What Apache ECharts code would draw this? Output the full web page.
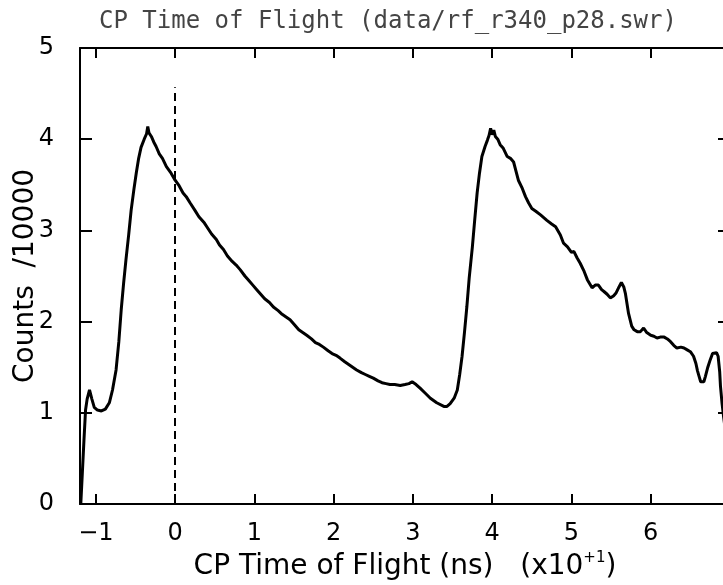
<!DOCTYPE html>
<html>
<head>
<meta charset="utf-8">
<style>
  html, body { margin: 0; padding: 0; background: #fff; }
  #chart { width: 723px; height: 585px; }
</style>
<script src="https://cdn.jsdelivr.net/npm/echarts@6/dist/echarts.min.js"></script>
</head>
<body>
<div id="chart"></div>
<script>
// Time of flight in units of 10 ns
const tof = [
  -1.19, -1.17, -1.15, -1.13, -1.11, -1.08, -1.05, -1.02, -0.98, -0.93,
  -0.88, -0.83, -0.79, -0.745, -0.71, -0.68, -0.65, -0.62, -0.585, -0.555,
  -0.52, -0.49, -0.46, -0.43, -0.39, -0.36, -0.345, -0.33, -0.30, -0.27,
  -0.24, -0.20, -0.16, -0.11, -0.06, 0.00, 0.05, 0.10, 0.14, 0.19,
  0.25, 0.30, 0.37, 0.40, 0.46, 0.52, 0.56, 0.61, 0.66, 0.72,
  0.77, 0.82, 0.88, 0.93, 0.98, 1.03, 1.08, 1.13, 1.19, 1.24,
  1.30, 1.35, 1.40, 1.45, 1.50, 1.56, 1.61, 1.66, 1.72, 1.77,
  1.82, 1.87, 1.93, 1.98, 2.03, 2.08, 2.14, 2.19, 2.24, 2.29,
  2.35, 2.40, 2.45, 2.50, 2.56, 2.61, 2.66, 2.71, 2.77, 2.84,
  2.90, 2.95, 2.99, 3.04, 3.09, 3.15, 3.22, 3.30, 3.39, 3.43,
  3.47, 3.52, 3.56, 3.59, 3.62, 3.65, 3.68, 3.71, 3.75, 3.78,
  3.81, 3.84, 3.87, 3.91, 3.94, 3.96, 3.98, 4.00, 4.02, 4.04,
  4.07, 4.10, 4.14, 4.19, 4.23, 4.27, 4.30, 4.33, 4.38, 4.42,
  4.46, 4.50, 4.55, 4.61, 4.65, 4.69, 4.75, 4.80, 4.86, 4.90,
  4.95, 5.00, 5.03, 5.07, 5.11, 5.16, 5.20, 5.26, 5.30, 5.34,
  5.38, 5.41, 5.45, 5.49, 5.53, 5.56, 5.60, 5.63, 5.66, 5.68,
  5.72, 5.76, 5.79, 5.83, 5.87, 5.91, 5.95, 6.00, 6.04, 6.08,
  6.12, 6.17, 6.21, 6.25, 6.29, 6.33, 6.38, 6.42, 6.46, 6.50,
  6.54, 6.57, 6.59, 6.61, 6.63, 6.65, 6.67, 6.69, 6.72, 6.75,
  6.78, 6.80, 6.83, 6.85, 6.87, 6.88, 6.90, 6.92, 6.94
];

// Counts per bin, in units of 10000
const counts = [
  0.00, 0.35, 0.70, 1.03, 1.15, 1.25, 1.15, 1.06, 1.03, 1.02,
  1.04, 1.11, 1.25, 1.47, 1.78, 2.13, 2.42, 2.68, 2.96, 3.22,
  3.45, 3.63, 3.79, 3.91, 4.00, 4.06, 4.14, 4.07, 4.03, 3.97,
  3.92, 3.84, 3.79, 3.70, 3.64, 3.55, 3.49, 3.41, 3.37, 3.30,
  3.22, 3.15, 3.08, 3.04, 2.96, 2.90, 2.84, 2.79, 2.72, 2.66,
  2.62, 2.57, 2.50, 2.45, 2.40, 2.35, 2.30, 2.25, 2.21, 2.16,
  2.12, 2.08, 2.05, 2.02, 1.97, 1.91, 1.88, 1.85, 1.81, 1.77,
  1.75, 1.72, 1.68, 1.65, 1.63, 1.60, 1.56, 1.53, 1.50, 1.47,
  1.44, 1.42, 1.40, 1.38, 1.35, 1.33, 1.32, 1.31, 1.31, 1.30,
  1.31, 1.32, 1.34, 1.31, 1.27, 1.22, 1.16, 1.11, 1.07, 1.07,
  1.10, 1.16, 1.25, 1.42, 1.62, 1.88, 2.16, 2.48, 2.82, 3.12,
  3.41, 3.63, 3.81, 3.92, 3.99, 4.04, 4.12, 4.05, 4.10, 4.03,
  4.00, 3.94, 3.90, 3.81, 3.79, 3.75, 3.65, 3.55, 3.46, 3.37,
  3.30, 3.24, 3.21, 3.17, 3.14, 3.11, 3.07, 3.04, 2.95, 2.86,
  2.82, 2.76, 2.77, 2.70, 2.64, 2.55, 2.46, 2.37, 2.40, 2.40,
  2.35, 2.33, 2.30, 2.26, 2.28, 2.31, 2.38, 2.43, 2.38, 2.31,
  2.09, 1.95, 1.91, 1.89, 1.89, 1.93, 1.88, 1.85, 1.84, 1.82,
  1.83, 1.83, 1.81, 1.78, 1.74, 1.71, 1.72, 1.71, 1.69, 1.67,
  1.62, 1.54, 1.46, 1.40, 1.34, 1.32, 1.34, 1.40, 1.50, 1.58,
  1.65, 1.67, 1.66, 1.62, 1.45, 1.29, 1.10, 0.95, 0.82
];

// Tick positions
const xTicks = [-1, 0, 1, 2, 3, 4, 5, 6];
const yTicks = [0, 1, 2, 3, 4, 5];

// Dashed marker at t = 0
const markerX = 0;
const markerTop = 4.57;

const FONT = 'DejaVu Sans';
const TITLE_FONT = 'DejaVu Sans Mono';
const points = tof.map((t, i) => [t, counts[i]]);

const chart = echarts.init(document.getElementById('chart'), null, { renderer: 'canvas' });

const frameLine = { show: true, onZero: false, lineStyle: { color: '#000', width: 2 } };
const tickStyle = { color: '#000', width: 2 };

chart.setOption({
  backgroundColor: '#fff',
  animation: false,
  title: {
    text: 'CP Time of Flight (data/rf_r340_p28.swr)',
    left: 94,
    top: 5,
    textStyle: { fontFamily: TITLE_FONT, fontSize: 24, fontWeight: 'normal', color: '#444' }
  },
  // the frame runs slightly past the right edge of the canvas
  grid: { left: 80, right: -7, top: 48, bottom: 81, containLabel: false, outerBoundsMode: 'none' },
  xAxis: [
    {
      type: 'value', position: 'bottom', min: -1.2, max: 7,
      axisLine: frameLine,
      splitLine: { show: false },
      axisTick: { show: true, inside: true, length: 10, customValues: xTicks, lineStyle: tickStyle },
      axisLabel: {
        customValues: xTicks, margin: 18,
        fontFamily: FONT, fontSize: 24, color: '#000',
        formatter: v => (v < 0 ? '\u2212' + Math.abs(v) : String(v))
      },
      name: '{a|CP Time of Flight (ns)   (x10}{s|+1}{a|)}',
      nameLocation: 'middle',
      nameGap: 47,
      nameTextStyle: {
        rich: {
          a: { fontFamily: FONT, fontSize: 28, color: '#000', lineHeight: 32 },
          s: { fontFamily: FONT, fontSize: 15, color: '#000', verticalAlign: 'top', lineHeight: 32, padding: [0, 0, 14, 0] }
        }
      }
    },
    {
      type: 'value', position: 'top', min: -1.2, max: 7,
      axisLine: frameLine,
      splitLine: { show: false },
      axisTick: { show: true, inside: true, length: 10, customValues: xTicks, lineStyle: tickStyle },
      axisLabel: { show: false }
    }
  ],
  yAxis: [
    {
      type: 'value', position: 'left', min: 0, max: 5, interval: 1,
      axisLine: frameLine,
      splitLine: { show: false },
      axisTick: { show: true, inside: true, length: 12, customValues: yTicks, lineStyle: tickStyle },
      axisLabel: { margin: 26, fontFamily: FONT, fontSize: 24, color: '#000' },
      name: 'Counts  /10000',
      nameLocation: 'middle',
      nameGap: 40,
      nameMoveOverlap: false,
      nameTextStyle: { fontFamily: FONT, fontSize: 28, color: '#000' }
    },
    {
      type: 'value', position: 'right', min: 0, max: 5, interval: 1,
      axisLine: frameLine,
      splitLine: { show: false },
      axisTick: { show: true, inside: true, length: 12, customValues: yTicks, lineStyle: tickStyle },
      axisLabel: { show: false }
    }
  ],
  series: [
    {
      type: 'line',
      data: points,
      xAxisIndex: 0,
      yAxisIndex: 0,
      showSymbol: false,
      smooth: false,
      clip: true,
      lineStyle: { color: '#000', width: 3 },
      markLine: {
        silent: true,
        symbol: 'none',
        label: { show: false },
        lineStyle: { color: '#000', width: 2, type: [8, 5] },
        data: [[{ coord: [markerX, 0] }, { coord: [markerX, markerTop] }]]
      }
    }
  ]
});
</script>
</body>
</html>
